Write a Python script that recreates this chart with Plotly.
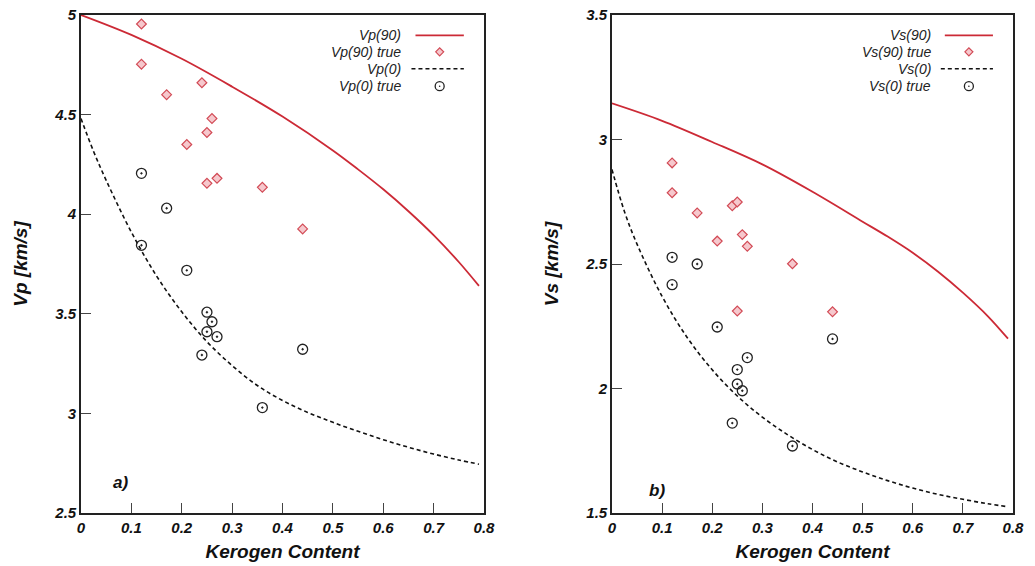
import plotly.graph_objects as go

# ---------------- data ----------------
kerogen_grid_90 = [0, 0.1, 0.2, 0.3, 0.4, 0.5, 0.55, 0.6, 0.65, 0.7, 0.75, 0.79]
vp90_curve = [5.0, 4.90, 4.78, 4.64, 4.49, 4.32, 4.225, 4.125, 4.015, 3.895, 3.76, 3.64]
vs90_curve = [3.145, 3.075, 2.99, 2.90, 2.79, 2.67, 2.61, 2.545, 2.47, 2.385, 2.29, 2.20]

kerogen_grid_0 = [0, 0.025, 0.05, 0.1, 0.15, 0.2, 0.25, 0.3, 0.35, 0.4, 0.45,
                  0.5, 0.55, 0.6, 0.65, 0.7, 0.75, 0.79]
vp0_curve = [4.48, 4.315, 4.17, 3.91, 3.69, 3.51, 3.36, 3.24, 3.14, 3.065, 3.005,
             2.955, 2.91, 2.868, 2.83, 2.796, 2.766, 2.745]
vs0_curve = [2.88, 2.71, 2.58, 2.37, 2.205, 2.075, 1.97, 1.885, 1.815, 1.755, 1.705,
             1.665, 1.63, 1.60, 1.575, 1.555, 1.537, 1.525]

vp90_true_x = [0.12, 0.12, 0.17, 0.24, 0.26, 0.25, 0.21, 0.25, 0.27, 0.36, 0.44]
vp90_true_y = [4.955, 4.753, 4.60, 4.66, 4.48, 4.41, 4.35, 4.155, 4.18, 4.135, 3.926]

vp0_true_x = [0.12, 0.12, 0.17, 0.21, 0.25, 0.25, 0.26, 0.27, 0.24, 0.44, 0.36]
vp0_true_y = [4.205, 3.844, 4.03, 3.718, 3.508, 3.41, 3.46, 3.385, 3.293, 3.322, 3.029]

vs90_true_x = [0.12, 0.12, 0.17, 0.24, 0.25, 0.21, 0.26, 0.27, 0.36, 0.25, 0.44]
vs90_true_y = [2.906, 2.786, 2.705, 2.734, 2.749, 2.592, 2.618, 2.571, 2.501, 2.311, 2.308]

vs0_true_x = [0.12, 0.12, 0.17, 0.21, 0.44, 0.27, 0.25, 0.25, 0.26, 0.24, 0.36]
vs0_true_y = [2.527, 2.417, 2.50, 2.247, 2.199, 2.124, 2.076, 2.018, 1.991, 1.861, 1.769]

x_ticks = [0, 0.1, 0.2, 0.3, 0.4, 0.5, 0.6, 0.7, 0.8]
legend_left = ["Vp(90)", "Vp(90) true", "Vp(0)", "Vp(0) true"]
legend_right = ["Vs(90)", "Vs(90) true", "Vs(0)", "Vs(0) true"]

# ---------------- styles ----------------
RED = "#cc2a36"
DIAMOND_LINE = "#d24a55"
DIAMOND_FILL = "#f6c8cd"
BLACK = "#111111"
FONT = "Liberation Sans, Arial, Helvetica, sans-serif"

fig = go.Figure()

def add_panel(xa, ya, x90, y90, x0, y0, tx90, ty90, tx0, ty0):
    fig.add_trace(go.Scatter(x=x90, y=y90, mode="lines", line=dict(color=RED, width=1.8, shape="spline"),
                             xaxis=xa, yaxis=ya, showlegend=False))
    fig.add_trace(go.Scatter(x=tx90, y=ty90, mode="markers",
                             marker=dict(symbol="diamond", size=7.5, color=DIAMOND_FILL,
                                         line=dict(color=DIAMOND_LINE, width=1.2)),
                             xaxis=xa, yaxis=ya, showlegend=False))
    fig.add_trace(go.Scatter(x=x0, y=y0, mode="lines",
                             line=dict(color=BLACK, width=1.6, dash="4px,3px", shape="spline"),
                             xaxis=xa, yaxis=ya, showlegend=False))
    fig.add_trace(go.Scatter(x=tx0, y=ty0, mode="markers",
                             marker=dict(symbol="circle-open-dot", size=10, color="#222222",
                                         line=dict(width=1.3)),
                             xaxis=xa, yaxis=ya, showlegend=False))

add_panel("x", "y", kerogen_grid_90, vp90_curve, kerogen_grid_0, vp0_curve,
          vp90_true_x, vp90_true_y, vp0_true_x, vp0_true_y)
add_panel("x2", "y2", kerogen_grid_90, vs90_curve, kerogen_grid_0, vs0_curve,
          vs90_true_x, vs90_true_y, vs0_true_x, vs0_true_y)

tickfont = dict(family=FONT, size=15, color="#111", weight="bold", style="italic")
titlefont = dict(family=FONT, size=19, color="#111", weight="bold", style="italic")

def xaxis_cfg(domain, anchor):
    return dict(domain=domain, anchor=anchor, range=[0, 0.8], tickvals=x_ticks,
                ticktext=[f"{v:g}" for v in x_ticks], automargin=False,
                ticks="inside", ticklen=10, tickwidth=1, tickcolor="#444",
                showline=True, mirror=True, linecolor="#222", linewidth=1.6,
                showgrid=False, zeroline=False, tickfont=tickfont,
                title=dict(text="Kerogen Content", font=titlefont, standoff=10))

def yaxis_cfg(rng, anchor, title):
    return dict(range=rng, dtick=0.5, anchor=anchor, automargin=False,
                ticks="inside", ticklen=10, tickwidth=1, tickcolor="#444",
                showline=True, mirror=True, linecolor="#222", linewidth=1.6,
                showgrid=False, zeroline=False, tickfont=tickfont,
                title=dict(text=title, font=titlefont, standoff=22))

fig.update_layout(
    width=1035, height=566,
    margin=dict(l=81, r=22, t=15, b=53),
    paper_bgcolor="white", plot_bgcolor="white",
    showlegend=False,
    xaxis=xaxis_cfg([0, 0.4324], "y"),
    yaxis=yaxis_cfg([2.5, 5], "x", "Vp [km/s]"),
    xaxis2=xaxis_cfg([0.5697, 1.0], "y2"),
    yaxis2=yaxis_cfg([1.5, 3.5], "x2", "Vs [km/s]"),
)

# ---------------- manual legends (text right-aligned, key on the right) ----------------
row_y = [0.959, 0.926, 0.892, 0.857]
legfont = dict(family=FONT, size=14, color="#222", style="italic")
annotations = []
shapes = []
for xa, ya, labels, xw, yh in (("x", "y", legend_left, 403, 498), ("x2", "y2", legend_right, 401, 498)):
    xr, yr = f"{xa} domain", f"{ya} domain"
    for lab, ry in zip(labels, row_y):
        annotations.append(dict(xref=xr, yref=yr, x=0.80, y=ry, text=lab, showarrow=False,
                                xanchor="right", yanchor="middle", font=legfont))
    shapes.append(dict(type="line", xref=xr, yref=yr, x0=0.83, x1=0.95, y0=row_y[0], y1=row_y[0],
                       line=dict(color=RED, width=1.8)))
    shapes.append(dict(type="line", xref=xr, yref=yr, x0=0.82, x1=0.95, y0=row_y[2], y1=row_y[2],
                       line=dict(color=BLACK, width=1.6, dash="4px,3px")))
    cx, cy = 0.89, row_y[1]
    dx, dy = 4.0 / xw, 4.0 / yh
    shapes.append(dict(type="path", xref=xr, yref=yr,
                       path=f"M {cx-dx},{cy} L {cx},{cy+dy} L {cx+dx},{cy} L {cx},{cy-dy} Z",
                       fillcolor=DIAMOND_FILL, line=dict(color=DIAMOND_LINE, width=1.2)))
    cy2 = row_y[3]
    rx, ry_ = 4.5 / xw, 4.5 / yh
    shapes.append(dict(type="circle", xref=xr, yref=yr, x0=cx-rx, x1=cx+rx, y0=cy2-ry_, y1=cy2+ry_,
                       line=dict(color="#222", width=1.3)))
    shapes.append(dict(type="circle", xref=xr, yref=yr, x0=cx-0.8/xw, x1=cx+0.8/xw,
                       y0=cy2-0.8/yh, y1=cy2+0.8/yh, fillcolor="#222", line=dict(width=0)))

panel_font = dict(family=FONT, size=17, color="#111", weight="bold", style="italic")
annotations.append(dict(xref="x domain", yref="y domain", x=0.099, y=0.062, text="a)",
                        showarrow=False, xanchor="center", yanchor="middle", font=panel_font))
annotations.append(dict(xref="x2 domain", yref="y2 domain", x=0.112, y=0.046, text="b)",
                        showarrow=False, xanchor="center", yanchor="middle", font=panel_font))

fig.update_layout(annotations=annotations, shapes=shapes)

fig.write_html("out.html")
